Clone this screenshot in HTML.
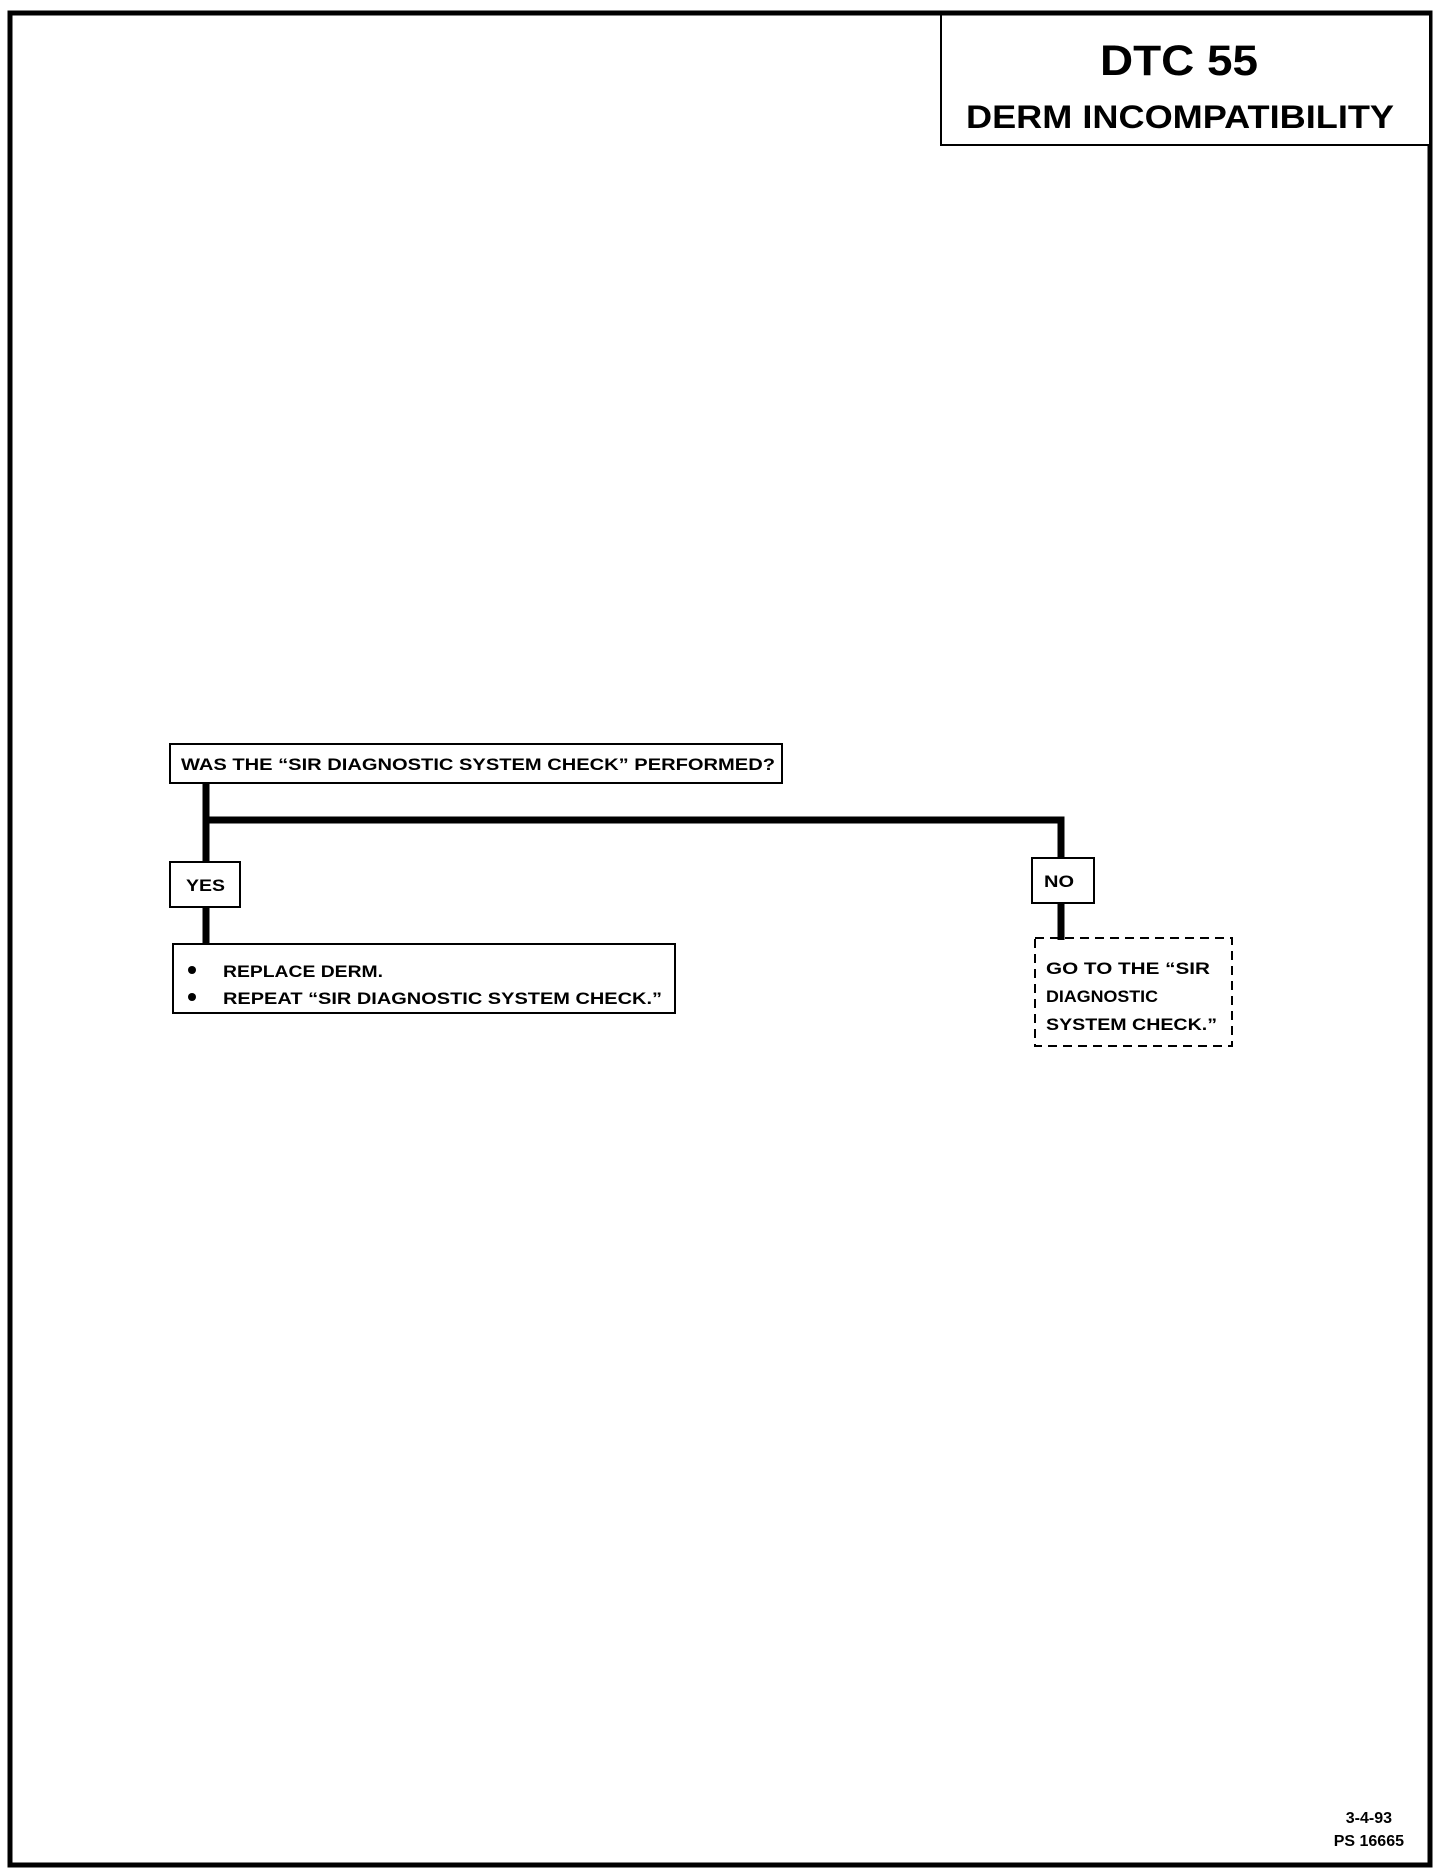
<!DOCTYPE html>
<html><head><meta charset="utf-8"><style>
html,body{margin:0;padding:0;background:#fff;}
svg{display:block;}
text{font-family:"Liberation Sans",sans-serif;font-weight:bold;fill:#000;}
</style></head><body>
<svg width="1440" height="1876" viewBox="0 0 1440 1876" xmlns="http://www.w3.org/2000/svg">
<rect x="0" y="0" width="1440" height="1876" fill="#fff"/>
<!-- outer border -->
<rect x="10" y="13" width="1420" height="1852" fill="none" stroke="#000" stroke-width="5"/>
<!-- title box -->
<rect x="941" y="13" width="489" height="132" fill="#fff" stroke="#000" stroke-width="2"/>
<line x1="10" y1="13" x2="1430" y2="13" stroke="#000" stroke-width="5"/>
<text x="1100" y="75" font-size="43" textLength="158" lengthAdjust="spacingAndGlyphs">DTC 55</text>
<text x="966" y="128" font-size="32" textLength="428" lengthAdjust="spacingAndGlyphs">DERM INCOMPATIBILITY</text>
<!-- connectors -->
<line x1="206" y1="783" x2="206" y2="861" stroke="#000" stroke-width="7"/>
<polyline points="206,820 1061,820 1061,857" fill="none" stroke="#000" stroke-width="7"/>
<line x1="206" y1="907" x2="206" y2="943" stroke="#000" stroke-width="7"/>
<line x1="1061" y1="903" x2="1061" y2="937" stroke="#000" stroke-width="7"/>
<!-- question box -->
<rect x="170" y="744" width="612" height="39" fill="#fff" stroke="#000" stroke-width="2"/>
<text x="181" y="770" font-size="17" textLength="594" lengthAdjust="spacingAndGlyphs">WAS THE “SIR DIAGNOSTIC SYSTEM CHECK” PERFORMED?</text>
<!-- YES -->
<rect x="170" y="862" width="70" height="45" fill="#fff" stroke="#000" stroke-width="2"/>
<text x="186" y="891" font-size="17" textLength="39" lengthAdjust="spacingAndGlyphs">YES</text>
<!-- NO -->
<rect x="1032" y="858" width="62" height="45" fill="#fff" stroke="#000" stroke-width="2"/>
<text x="1044" y="887" font-size="17" textLength="30" lengthAdjust="spacingAndGlyphs">NO</text>
<!-- action box -->
<rect x="173" y="944" width="502" height="69" fill="#fff" stroke="#000" stroke-width="2"/>
<circle cx="192" cy="970" r="4"/>
<circle cx="192" cy="997" r="4"/>
<text x="223" y="977" font-size="17" textLength="160" lengthAdjust="spacingAndGlyphs">REPLACE DERM.</text>
<text x="223" y="1004" font-size="17" textLength="439" lengthAdjust="spacingAndGlyphs">REPEAT “SIR DIAGNOSTIC SYSTEM CHECK.”</text>
<!-- dashed box -->
<rect x="1035" y="938" width="197" height="108" fill="#fff" stroke="#000" stroke-width="2" stroke-dasharray="9,6"/>
<line x1="1061" y1="930" x2="1061" y2="940" stroke="#000" stroke-width="7"/>
<text x="1046" y="974" font-size="17" textLength="164" lengthAdjust="spacingAndGlyphs">GO TO THE “SIR</text>
<text x="1046" y="1002" font-size="17" textLength="112" lengthAdjust="spacingAndGlyphs">DIAGNOSTIC</text>
<text x="1046" y="1030" font-size="17" textLength="171" lengthAdjust="spacingAndGlyphs">SYSTEM CHECK.”</text>
<!-- footer -->
<text x="1392" y="1823" font-size="16" text-anchor="end">3-4-93</text>
<text x="1404" y="1846" font-size="16" text-anchor="end">PS 16665</text>
</svg>
</body></html>
